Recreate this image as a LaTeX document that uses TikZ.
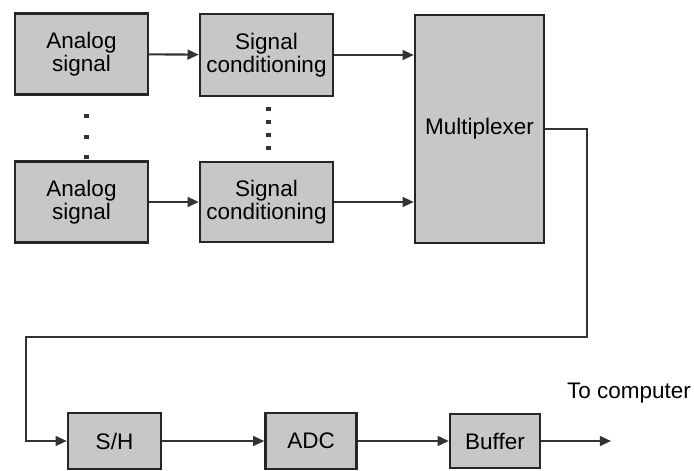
\documentclass[tikz,border=0pt]{standalone}
\usepackage{fontspec}
\newfontfamily\blockfont{Liberation Sans}
\usetikzlibrary{arrows.meta}
\begin{document}
\begin{tikzpicture}[x=0.025cm,y=-0.025cm,
  block/.style={draw=black!85,line width=1.6pt,fill=black!22,align=center,
    inner sep=0pt,font=\blockfont\fontsize{16}{16.5}\selectfont},
  wire/.style={draw=black!80,line width=1.5pt},
  arr/.style={wire,-{Triangle[length=8pt,width=7pt]}}]
\useasboundingbox (0,0) rectangle (694,471);
% input channels
\node[block,minimum width=3.33cm,minimum height=2.02cm] (asig1) at (81.5,54) {Analog\\signal};
\node[block,minimum width=3.33cm,minimum height=2.02cm] (asig2) at (81.5,202) {Analog\\signal};
\node[block,minimum width=3.33cm,minimum height=2.05cm] (cond1) at (266.5,55) {Signal\\conditioning};
\node[block,minimum width=3.33cm,minimum height=2.0cm] (cond2) at (266.5,202) {Signal\\conditioning};
\node[block,minimum width=3.23cm,minimum height=5.7cm] (mux) at (479.5,129) {Multiplexer};
% conversion chain
\node[block,minimum width=2.33cm,minimum height=1.4cm] (sh) at (114.5,441) {S/H};
\node[block,minimum width=2.28cm,minimum height=1.4cm] (adc) at (311,441) {ADC};
\node[block,minimum width=2.25cm,minimum height=1.35cm] (buf) at (495,441) {Buffer};
\node[font=\blockfont\fontsize{16}{16.5}\selectfont] (tocomp) at (629,393) {To computer};
\coordinate (out) at (611,441);
% dots between channels
\foreach \y in {116,137,157} \fill[black!80] (84,\y-2) rectangle +(4.5,4.5);
\foreach \y in {109,122,135,148} \fill[black!80] (266,\y-2) rectangle +(4.5,4.5);
% connectors
\draw[arr] (asig1) -- (cond1);
\draw[arr] (asig2) -- (cond2);
\draw[arr] (cond1.east) -- (cond1.east -| mux.west);
\draw[arr] (cond2.east) -- (cond2.east -| mux.west);
\draw[arr] (mux.east) -- ++(42,0) |- (26,337) |- (sh.west);
\draw[arr] (sh) -- (adc);
\draw[arr] (adc) -- (buf);
\draw[arr] (buf) -- (out);
\end{tikzpicture}
\end{document}
